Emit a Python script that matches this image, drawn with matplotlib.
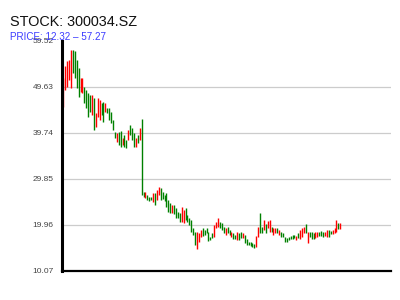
import matplotlib
matplotlib.use('Agg')
import matplotlib.pyplot as plt

title = "STOCK: 300034.SZ"
subtitle = "PRICE: 12.32 \u2013 57.27"
y_ticks = [10.07, 19.96, 29.85, 39.74, 49.63, 59.52]
grid_ticks = [19.96, 29.85, 39.74, 49.63]

highs = [
    51.57, 54.15, 55.15, 55.37, 57.52, 57.52, 57.3, 55.37, 53.59, 51.44,
    51.57, 49.63, 48.92, 48.21, 47.85, 47.85, 47.14, 43.91, 47.14, 46.77,
    46.06, 46.41, 46.06, 44.99, 44.99, 44.26, 42.47, 39.96, 39.61, 39.96,
    40.1, 38.67, 39.25, 38.17, 40.32, 41.4, 40.69, 39.61, 38.54, 39.25,
    40.69, 42.7,
    27.06, 27.06, 26.35, 25.98, 25.98, 26.71, 26.71, 27.42, 28.13, 27.79,
    27.06, 26.35, 26.71, 25.27, 24.56, 24.2, 24.2, 23.49, 22.76, 22.41,
    23.83, 23.12, 23.49, 22.05, 21.34, 20.97, 19.19, 18.45, 18.45, 18.11,
    18.82, 19.19, 18.82, 19.19, 18.45, 17.38, 18.11, 19.9, 20.6, 21.34,
    20.6, 20.26, 19.53, 19.19, 19.53, 18.82, 18.45, 18.11, 17.75, 18.45, 18.11,
    18.45, 18.24, 17.75, 16.82, 16.31, 16.31, 16.09, 15.81, 17.53, 19.53,
    22.41, 19.53, 20.97, 20.11, 20.82, 20.97, 19.53, 19.19, 19.19, 19.19,
    18.82, 18.45, 18.24, 17.38, 17.04, 17.25, 17.53, 17.75, 17.75, 17.53,
    18.11, 18.82, 19.19, 19.53, 20.11, 18.45, 18.45, 18.45, 18.24, 18.45,
    18.45, 18.39, 18.67, 18.45, 18.45, 18.82, 18.82, 18.67, 18.82, 19.19,
    20.97, 20.39, 20.26,
]
lows = [
    45.33, 48.92, 49.63, 51.07, 49.42, 52.51, 51.44, 49.29, 47.48, 48.56,
    48.21, 46.06, 44.99, 43.18, 44.26, 43.55, 40.32, 41.03, 43.18, 42.47,
    43.55, 42.1, 44.26, 43.91, 42.47, 41.76, 40.32, 38.54, 37.81, 37.1,
    36.73, 37.1, 36.73, 36.39, 38.17, 39.25, 38.17, 36.73, 36.73, 37.46,
    38.17, 26.3,
    25.98, 25.64, 25.27, 25.06, 25.27, 24.78, 24.2, 25.27, 26.35, 25.27,
    25.49, 25.06, 23.83, 22.76, 22.41, 22.41, 22.2, 21.47, 21.34, 20.6,
    20.6, 20.26, 20.97, 20.6, 19.9, 18.45, 17.75, 15.6, 14.74, 16.18,
    17.38, 17.6, 17.75, 18.11, 16.46, 16.67, 17.04, 17.38, 19.19, 19.53,
    19.19, 18.82, 18.11, 17.75, 18.11, 17.75, 17.38, 16.89, 16.89, 16.67, 16.67,
    17.04, 17.04, 15.96, 15.6, 15.6, 15.38, 15.23, 14.89, 15.1, 17.38,
    18.11, 18.11, 18.82, 18.24, 19.19, 18.45, 18.45, 17.75, 18.11, 18.11,
    17.75, 17.24, 17.38, 16.31, 16.31, 16.67, 16.82, 16.82, 17.04, 16.67,
    17.04, 16.82, 17.38, 18.11, 18.11, 15.96, 17.24, 16.82, 16.82, 17.04,
    17.38, 17.53, 17.53, 17.24, 17.53, 17.24, 17.38, 17.96, 17.96, 18.24,
    18.45, 18.97, 18.97,
]
rising = [
    1, 1, 1, 1, 1, 0, 0, 0, 0, 1, 1, 0, 0, 0, 0, 1, 0, 1, 1, 1,
    0, 0, 1, 0, 0, 0, 0, 0, 1, 0, 0, 1, 0, 0, 1, 0, 0, 0, 1, 0,
    1, 0,
    0, 1, 0, 0, 0, 1, 0, 1, 1, 0, 0, 0, 0, 0, 0, 1, 0, 0, 0, 0,
    1, 1, 0, 0, 0, 0, 0, 0, 1, 1, 1, 0, 0, 0, 0, 0, 0, 1, 1, 1,
    0, 0, 0, 1, 0, 0, 1, 0, 0, 1, 0,
    0, 1, 0, 0, 0, 0, 0, 0, 1, 1, 0, 0, 1, 0, 1, 1, 0, 1, 1, 0,
    1, 0, 0, 0, 0, 0, 0, 0, 0, 1, 0, 1, 1, 1, 0, 1, 0, 0, 0, 1,
    1, 0, 0, 0, 1, 1, 0, 0, 1, 1, 1, 0, 1,
]

UP = '#ff0000'
DOWN = '#008000'

fig = plt.figure(figsize=(4, 3), dpi=100)
ax = fig.add_axes([62 / 400, (300 - 270.7) / 300, (390.7 - 62) / 400, 230 / 300])

xs = list(range(len(highs)))
colors = [UP if r else DOWN for r in rising]
ax.vlines(xs, lows, highs, colors=colors, linewidth=1.0)

ax.set_xlim(-0.7, 171.4)
ax.set_ylim(y_ticks[0], y_ticks[-1])

for g in grid_ticks:
    ax.axhline(g, color='#cccccc', linewidth=0.9, zorder=0)

ax.set_yticks(y_ticks)
ax.set_yticklabels([f"{t:.2f}" for t in y_ticks], fontsize=6, color='#444444',
                   family='Liberation Sans')
ax.tick_params(axis='y', length=0, pad=6)
ax.set_xticks([])

for s in ['top', 'right']:
    ax.spines[s].set_visible(False)
ax.spines['left'].set_linewidth(2.2)
ax.spines['bottom'].set_linewidth(1.6)
ax.spines['left'].set_color('black')
ax.spines['bottom'].set_color('black')

fig.text(10 / 400, 1 - 26 / 300, title, fontsize=10.4, family='Liberation Sans',
         color='#111111', ha='left', va='baseline')
fig.text(10 / 400, 1 - 40 / 300, subtitle, fontsize=7.1, family='Liberation Sans',
         color='#3a3aff', ha='left', va='baseline')

fig.savefig('out.png', dpi=100)
